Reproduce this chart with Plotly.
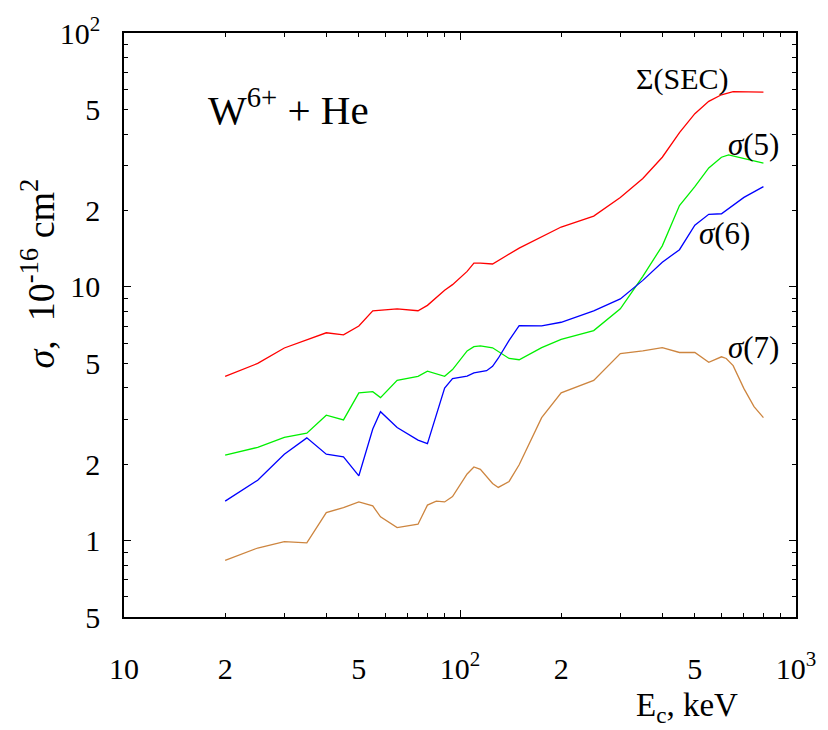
import plotly.graph_objects as go

# ---------------- data ----------------
E_sum = [20, 25, 30, 35, 40, 45, 50, 55, 58, 65, 75, 80, 90, 95, 105, 110, 115, 125,
         150, 175, 200, 250, 300, 350, 400, 450, 500, 550, 600, 650, 700, 800]
s_sum = [4.44, 4.99, 5.74, 6.17, 6.59, 6.47, 7.01, 8.04, 8.1, 8.19, 8.05, 8.45, 9.7, 10.2, 11.5, 12.4, 12.4, 12.3,
         14.2, 15.8, 17.2, 19.0, 22.5, 26.7, 32.4, 40.5, 48.1, 53.8, 57.1, 58.7, 58.7, 58.5]

E_5 = [20, 25, 30, 35, 40, 45, 50, 55, 58, 65, 75, 80, 90, 95, 105, 110, 115, 125,
       140, 150, 175, 200, 250, 300, 350, 400, 450, 500, 550, 600, 630, 800]
s_5 = [2.17, 2.33, 2.55, 2.65, 3.12, 2.99, 3.82, 3.86, 3.66, 4.28, 4.44, 4.65, 4.44, 4.72, 5.59, 5.81, 5.85, 5.75,
       5.22, 5.16, 5.76, 6.20, 6.72, 8.19, 11.0, 14.5, 20.9, 24.8, 29.4, 32.4, 33.1, 30.7]

E_6 = [20, 25, 30, 35, 40, 45, 50, 55, 58, 65, 75, 80, 90, 95, 105, 110, 120, 125, 130,
       140, 150, 175, 200, 250, 300, 350, 400, 450, 500, 550, 600, 620, 700, 800]
s_6 = [1.43, 1.73, 2.19, 2.54, 2.19, 2.14, 1.80, 2.75, 3.22, 2.79, 2.49, 2.41, 3.99, 4.35, 4.45, 4.58, 4.67, 4.86, 5.23,
       6.15, 7.03, 7.01, 7.25, 8.04, 8.96, 10.6, 12.5, 14.0, 17.5, 19.3, 19.4, 20.0, 22.5, 24.8]

E_7 = [20, 25, 30, 35, 40, 45, 50, 55, 58, 65, 75, 80, 85, 90, 95, 105, 110, 115, 125, 130,
       140, 150, 175, 200, 250, 300, 350, 400, 450, 500, 550, 600, 620, 650, 700, 750, 800]
s_7 = [0.836, 0.935, 0.99, 0.98, 1.29, 1.35, 1.42, 1.37, 1.24, 1.125, 1.16, 1.38, 1.43, 1.42, 1.49, 1.83, 1.95, 1.91, 1.68, 1.62,
       1.71, 1.99, 3.05, 3.82, 4.28, 5.46, 5.59, 5.76, 5.51, 5.51, 5.04, 5.30, 5.22, 4.89, 3.97, 3.37, 3.05]

series_names = ["Σ(SEC)", "σ(5)", "σ(6)", "σ(7)"]
series_colors = ["#ff0000", "#00f000", "#0000ff", "#cd853f"]

x_tickvals = [10, 20, 50, 100, 200, 500, 1000]
x_ticktext = ["10", "2", "5", "10<sup>2</sup>", "2", "5", "10<sup>3</sup>"]
y_tickvals = [0.5, 1, 2, 5, 10, 20, 50, 100]
y_ticktext = ["5", "1", "2", "5", "10", "2", "5", "10<sup>2</sup>"]
x_minor = [m * d for d in (10, 100) for m in range(1, 10)] + [1000]
y_minor = [round(m * d, 3) for d in (0.1, 1, 10) for m in range(1, 10) if m * d >= 0.5] + [100]

FONT = "Liberation Serif"
XR = [1, 3]
YR = [-0.30103, 2]

fig = go.Figure()
for E, s, name, col in zip([E_sum, E_5, E_6, E_7], [s_sum, s_5, s_6, s_7], series_names, series_colors):
    fig.add_trace(go.Scatter(x=E, y=s, mode="lines", name=name,
                             line=dict(color=col, width=1.3), showlegend=False))

# empty trace to hold overlay axes (longer decade ticks)
fig.add_trace(go.Scatter(x=[], y=[], xaxis="x2", yaxis="y2", showlegend=False))

axis_common = dict(type="log", showline=True, linecolor="black", linewidth=1.5,
                   mirror="ticks", ticks="inside", ticklen=4, tickwidth=1, tickcolor="black",
                   showgrid=False, zeroline=False,
                   tickfont=dict(family=FONT, size=30, color="black"))

fig.update_layout(
    width=828, height=730,
    margin=dict(l=124, r=22, t=24, b=113),
    paper_bgcolor="white", plot_bgcolor="white",
    font=dict(family=FONT, color="black"),
    xaxis=dict(range=XR, tickvals=x_tickvals, ticktext=x_ticktext,
               ticklabelstandoff=24,
               minor=dict(ticks="inside", ticklen=4, tickwidth=1, tickcolor="black", tickvals=x_minor),
               **axis_common),
    yaxis=dict(range=YR, tickvals=y_tickvals, ticktext=y_ticktext,
               ticklabelstandoff=16,
               minor=dict(ticks="inside", ticklen=4, tickwidth=1, tickcolor="black", tickvals=y_minor),
               **axis_common),
    xaxis2=dict(type="log", range=XR, overlaying="x", anchor="y2", tickvals=[10, 100, 1000],
                ticks="inside", ticklen=7, tickwidth=1, tickcolor="black", showticklabels=False,
                showline=False, mirror="ticks", showgrid=False, zeroline=False),
    yaxis2=dict(type="log", range=YR, overlaying="y", anchor="x2", tickvals=[1, 10, 100],
                ticks="inside", ticklen=7, tickwidth=1, tickcolor="black", showticklabels=False,
                showline=False, mirror="ticks", showgrid=False, zeroline=False),
)

W = 682.0
H = 593.0
def px(xp, yp):
    return (xp - 124) / W, (617 - yp) / H

annots = [
    ("W<sup>6+</sup> + He", 291, 99, 41),
    ("Σ(SEC)", 690, 71, 30),
    ("<i>σ</i>(5)", 763, 137, 31),
    ("<i>σ</i>(6)", 733, 228, 31),
    ("<i>σ</i>(7)", 763, 343, 31),
    ("E<sub>c</sub>, keV", 695, 709, 33),
]
for txt, xp, yp, fs in annots:
    ax, ay = px(xp, yp)
    fig.add_annotation(text=txt, x=ax, y=ay, xref="paper", yref="paper", showarrow=False,
                       xanchor="center", yanchor="middle",
                       font=dict(family=FONT, size=fs, color="black"))

ax, ay = px(37, 268)
fig.add_annotation(text="<i>σ</i>,&nbsp;&nbsp;10<sup>-16</sup> cm<sup>2</sup>", x=ax, y=ay,
                   xref="paper", yref="paper", showarrow=False, textangle=-90,
                   xanchor="center", yanchor="middle",
                   font=dict(family=FONT, size=38, color="black"))

fig.write_html("out.html")
